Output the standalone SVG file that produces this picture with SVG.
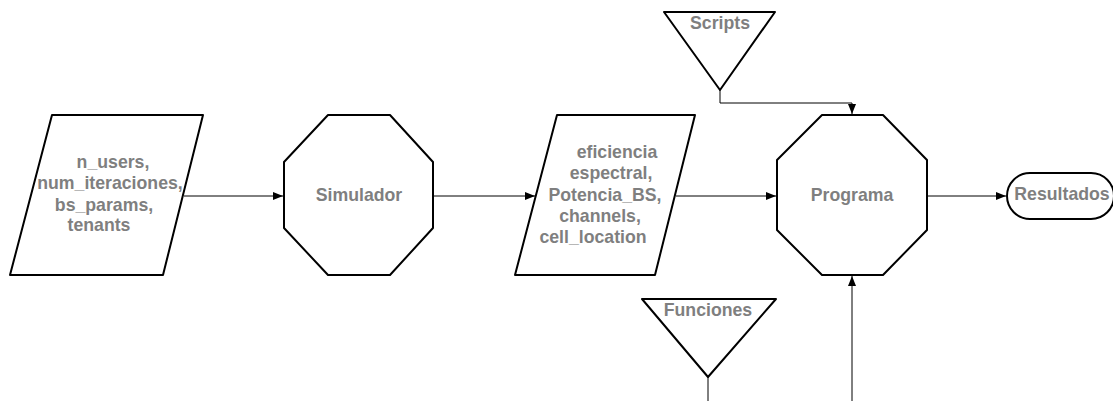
<svg xmlns="http://www.w3.org/2000/svg" width="1113" height="401" viewBox="0 0 1113 401">
<defs>
<style>
.shape{fill:#fff;stroke:#000;stroke-width:2;stroke-linejoin:round}
.conn{fill:none;stroke:#000;stroke-width:1;stroke-linejoin:round}
.lbl{font-family:"Liberation Sans",Arial,sans-serif;font-weight:bold;font-size:17.7px;fill:#7f7f7f;text-anchor:middle;dominant-baseline:central}
</style>
<marker id="arr" viewBox="0 0 10 10" refX="10" refY="5" markerWidth="10" markerHeight="10" markerUnits="userSpaceOnUse" orient="auto">
<path d="M0,1 L10,5 L0,9 Z" fill="#000"/>
</marker>
</defs>
<rect width="1113" height="401" fill="#fff"/>
<g id="connectors">
<path class="conn" d="M184,196 H283" marker-end="url(#arr)"/>
<path class="conn" d="M433,196 H535" marker-end="url(#arr)"/>
<path class="conn" d="M676,196 H776" marker-end="url(#arr)"/>
<path class="conn" d="M927,196 H1006" marker-end="url(#arr)"/>
<path class="conn" d="M720,90 V103 H852 V114" marker-end="url(#arr)"/>
<path class="conn" d="M708,377 V403 H852 V276" marker-end="url(#arr)"/>
</g>
<g id="node-inputs">
<polygon class="shape" points="52,115 203,115 163,275 10,275"/>
<text class="lbl" x="113" y="162">n_users,</text>
<text class="lbl" x="110" y="183">num_iteraciones,</text>
<text class="lbl" x="104" y="205">bs_params,</text>
<text class="lbl" x="99" y="225">tenants</text>
</g>
<g id="node-simulador">
<polygon class="shape" points="328,115 390,115 433,162 433,228 390,275 328,275 284,228 284,162"/>
<text class="lbl" x="359" y="195">Simulador</text>
</g>
<g id="node-outputs">
<polygon class="shape" points="557,115 695,115 655,275 515,275"/>
<text class="lbl" x="617" y="152">eficiencia</text>
<text class="lbl" x="611" y="173">espectral,</text>
<text class="lbl" x="605" y="195">Potencia_BS,</text>
<text class="lbl" x="600" y="216">channels,</text>
<text class="lbl" x="593" y="237">cell_location</text>
</g>
<g id="node-programa">
<polygon class="shape" points="822,115 883,115 927,160 927,230 883,275 822,275 777,230 777,160"/>
<text class="lbl" x="852" y="195">Programa</text>
</g>
<g id="node-resultados">
<rect class="shape" x="1007" y="173" width="107" height="46" rx="23" ry="23"/>
<text class="lbl" x="1062" y="194">Resultados</text>
</g>
<g id="node-scripts">
<polygon class="shape" points="664,12 775,12 720,90"/>
<text class="lbl" x="720" y="23">Scripts</text>
</g>
<g id="node-funciones">
<polygon class="shape" points="642,299 776,299 708,377"/>
<text class="lbl" x="708" y="310">Funciones</text>
</g>
</svg>
